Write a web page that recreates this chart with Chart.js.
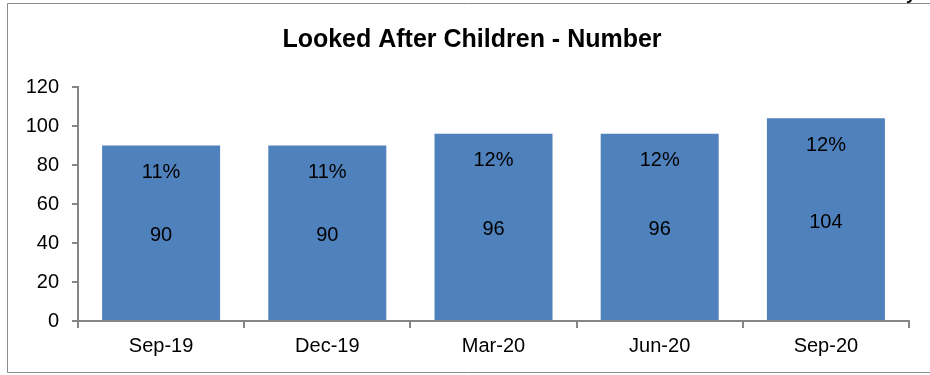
<!DOCTYPE html>
<html>
<head>
<meta charset="utf-8">
<script src="https://cdn.jsdelivr.net/npm/chart.js@4/dist/chart.umd.min.js"></script>
<style>
  html, body { margin: 0; background: #fff; overflow: hidden; }
</style>
</head>
<body>
<canvas id="chart" width="930" height="375"></canvas>
<script>
// chart values
const categories = ["Sep-19", "Dec-19", "Mar-20", "Jun-20", "Sep-20"];
const numbers = [90, 90, 96, 96, 104];
const percents = ["11%", "11%", "12%", "12%", "12%"];
const yTicks = [0, 20, 40, 60, 80, 100, 120];
const titleText = "Looked After Children - Number";

const axisGrey = "#868686";
const font = "Liberation Sans, Arial, sans-serif";

// outer frame (top, left, bottom only - right edge is cut off) + title
const frameAndTitle = {
  id: "frameAndTitle",
  beforeDraw(chart) {
    const ctx = chart.ctx;
    ctx.save();
    ctx.strokeStyle = "#8c8c8c";
    ctx.lineWidth = 1;
    ctx.beginPath();
    ctx.moveTo(930, 3.5);
    ctx.lineTo(7.5, 3.5);
    ctx.lineTo(7.5, 372.5);
    ctx.lineTo(930, 372.5);
    ctx.stroke();
    ctx.font = "bold 25px " + font;
    ctx.fillStyle = "#000";
    ctx.textAlign = "center";
    ctx.textBaseline = "middle";
    ctx.fillText(titleText, 472, 40);
    // clipped tail of page text above the chart
    ctx.font = "bold 18px " + font;
    ctx.textBaseline = "alphabetic";
    ctx.fillText("y", 911, -1);
    ctx.restore();
  }
};

// draws the % near top and the number in the middle of each bar
const barLabels = {
  id: "barLabels",
  afterDatasetsDraw(chart) {
    const ctx = chart.ctx;
    const meta = chart.getDatasetMeta(0);
    ctx.save();
    ctx.font = "20px " + font;
    ctx.fillStyle = "#000";
    ctx.textAlign = "center";
    ctx.textBaseline = "middle";
    meta.data.forEach((bar, i) => {
      ctx.fillText(percents[i], bar.x, bar.y + 27);
      ctx.fillText(String(numbers[i]), bar.x, (bar.y + bar.base) / 2 + 3);
    });
    ctx.restore();
  }
};

Chart.defaults.font.family = font;
Chart.defaults.color = "#000";

new Chart(document.getElementById("chart"), {
  type: "bar",
  data: {
    labels: categories,
    datasets: [{
      label: "Number",
      data: numbers,
      backgroundColor: "#4F81BD",
      borderWidth: 0,
      categoryPercentage: 0.71,
      barPercentage: 1.0
    }]
  },
  options: {
    responsive: false,
    animation: false,
    layout: { padding: { left: 0, right: 21, top: 87, bottom: 0 } },
    plugins: {
      legend: { display: false },
      tooltip: { enabled: false },
      title: { display: false }
    },
    scales: {
      x: {
        grid: { display: true, offset: true, drawOnChartArea: false, drawTicks: true, tickLength: 7, color: axisGrey, lineWidth: 2 },
        border: { display: true, color: axisGrey, width: 2 },
        ticks: { font: { size: 20 }, padding: 6, color: "#000" },
        afterFit(scale) { scale.height = 375 - 321; }
      },
      y: {
        min: 0,
        max: 120,
        afterBuildTicks(scale) { scale.ticks = yTicks.map(v => ({ value: v })); },
        grid: { display: true, drawOnChartArea: false, drawTicks: true, tickLength: 6, color: axisGrey, lineWidth: 2 },
        border: { display: true, color: axisGrey, width: 2 },
        ticks: { font: { size: 20 }, padding: 13, color: "#000" },
        afterFit(scale) { scale.width = 78; }
      }
    }
  },
  plugins: [frameAndTitle, barLabels]
});
</script>
</body>
</html>
